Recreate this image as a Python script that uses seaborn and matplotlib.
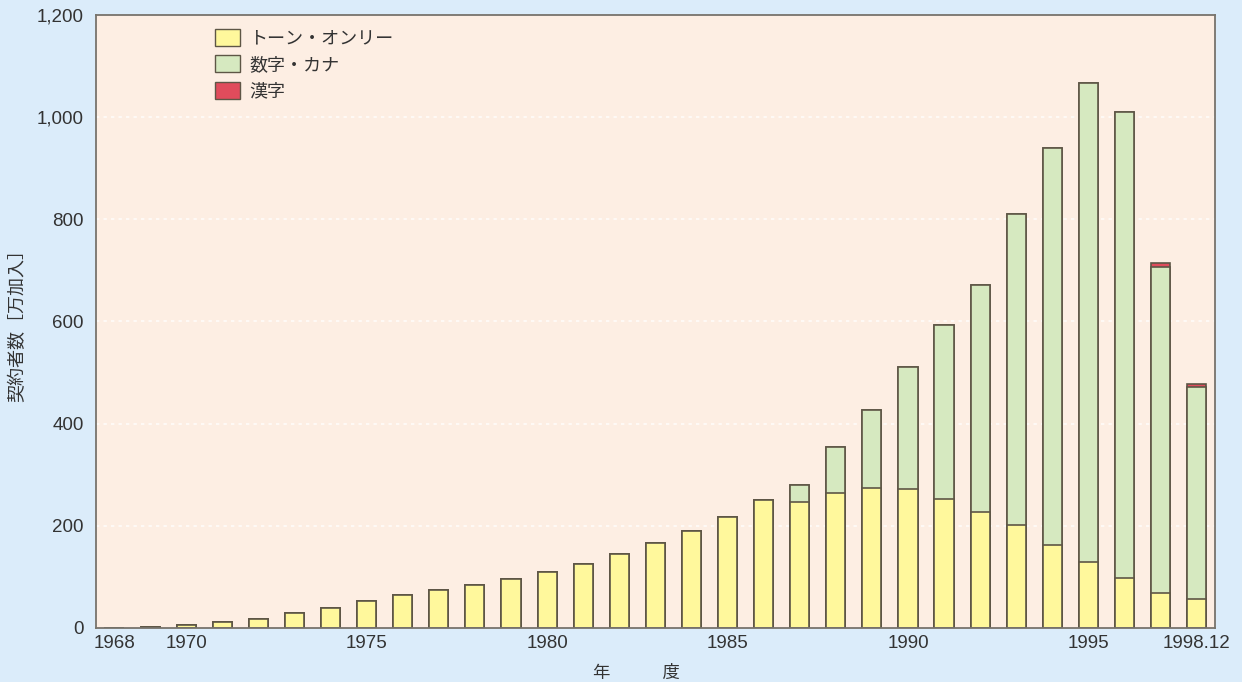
import matplotlib
matplotlib.use("Agg")
import matplotlib.pyplot as plt
import seaborn as sns
import pandas as pd
from matplotlib.patches import Patch

# Fiscal-year categories (last one is the December 1998 figure)
years = [str(y) for y in range(1968, 1998)] + ["1998.12"]

# Subscribers in units of 10,000 (万加入)
tone_only = [0.3, 1.5, 5, 12, 18, 30, 40, 53, 65, 74, 84, 96, 110, 125, 145, 166,
             190, 217, 251, 247, 264, 275, 272, 253, 228, 201, 163, 130, 98, 69, 56]
numeric_kana = [0] * 19 + [33, 90, 152, 238, 340, 443, 609, 777, 936, 912, 638, 415]
kanji = [0] * 29 + [8, 6]

tick_years = ["1968", "1970", "1975", "1980", "1985", "1990", "1995", "1998.12"]
legend_labels = ["トーン・オンリー", "数字・カナ", "漢字"]

df = pd.DataFrame({"year": years, "tone": tone_only,
                   "num": numeric_kana, "kanji": kanji})
df["lvl2"] = df["tone"] + df["num"]
df["lvl3"] = df["lvl2"] + df["kanji"]

sns.set_theme(style="white")
plt.rcParams["font.family"] = ["Noto Sans CJK JP", "DejaVu Sans"]

outer_bg = "#dbecfa"
plot_bg = "#fdeee3"
edge = "#5e5646"
c_tone = "#fff89c"
c_num = "#d6e9c0"
c_kanji = "#e04c5c"
txt = "#333333"
num_font = ["Liberation Sans", "DejaVu Sans"]

fig = plt.figure(figsize=(12.42, 6.82), dpi=100, facecolor=outer_bg)
ax = fig.add_axes([0.0773, 0.0792, 0.9007, 0.8988])
ax.set_facecolor(plot_bg)

# horizontal dotted grid in white, under the bars
for v in [200, 400, 600, 800, 1000]:
    ax.axhline(v, color="white", lw=1.2, ls=(0, (2, 2.5)), alpha=0.8, zorder=0.5)

bar_kw = dict(order=years, width=0.53, edgecolor=edge, linewidth=1.2, ax=ax,
              saturation=1, zorder=2)
# stacked by layering cumulative totals
sns.barplot(data=df, x="year", y="lvl3", color=c_kanji, **bar_kw)
sns.barplot(data=df, x="year", y="lvl2", color=c_num, **bar_kw)
sns.barplot(data=df, x="year", y="tone", color=c_tone, **bar_kw)

ax.set_xlim(-0.5, len(years) - 0.5)
ax.set_ylim(0, 1200)
ax.set_yticks([0, 200, 400, 600, 800, 1000, 1200])
ax.set_yticklabels(["0", "200", "400", "600", "800", "1,000", "1,200"])
ticks = [years.index(t) for t in tick_years]
ax.set_xticks(ticks)
ax.set_xticklabels(tick_years)
ax.tick_params(axis="both", length=0, labelsize=13.5, labelcolor=txt)
ax.tick_params(axis="x", pad=5)
ax.tick_params(axis="y", pad=9)
for lab in ax.get_xticklabels() + ax.get_yticklabels():
    lab.set_family(num_font)

for s in ax.spines.values():
    s.set_visible(True)
    s.set_color("#77736c")
    s.set_linewidth(1.3)

ax.set_xlabel("年　　　度", fontsize=12.5, color=txt)
ax.xaxis.set_label_coords(0.4835, -0.058)
ax.set_ylabel("契約者数［万加入］", fontsize=13, color=txt)
ax.yaxis.set_label_coords(-0.062, 0.5)

handles = [Patch(facecolor=c, edgecolor=edge, linewidth=1.0)
           for c in (c_tone, c_num, c_kanji)]
ax.legend(handles, legend_labels, loc="upper left", bbox_to_anchor=(0.092, 1.004),
          frameon=False, fontsize=13, handlelength=1.35, handleheight=1.05,
          labelspacing=0.45, handletextpad=0.55, labelcolor=txt)

fig.savefig("out.png", dpi=100, facecolor=outer_bg)
